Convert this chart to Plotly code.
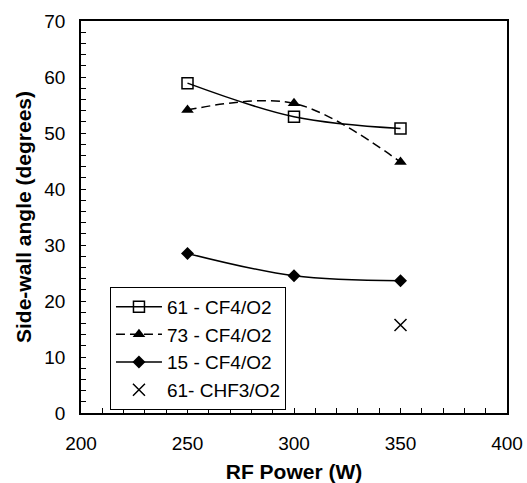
import plotly.graph_objects as go

power = [250, 300, 350]
s61_cf4 = [58.9, 52.9, 50.8]
s73_cf4 = [54.1, 55.3, 44.8]
s15_cf4 = [28.5, 24.5, 23.6]
power_chf3 = [350]
s61_chf3 = [15.7]

names = ["61 - CF4/O2", "73 - CF4/O2", "15 - CF4/O2", "61- CHF3/O2"]

FONT = "Liberation Sans, Arial, sans-serif"

fig = go.Figure()
fig.add_trace(go.Scatter(x=power, y=s61_cf4, name=names[0], mode="lines+markers",
                         line=dict(color="black", width=1.5, shape="spline"),
                         marker=dict(symbol="square-open", size=11, color="black", line=dict(width=1.5))))
fig.add_trace(go.Scatter(x=power, y=s73_cf4, name=names[1], mode="lines+markers",
                         line=dict(color="black", width=1.5, shape="spline", dash="9px,5px"),
                         marker=dict(symbol="triangle-up", size=11, color="black")))
fig.add_trace(go.Scatter(x=power, y=s15_cf4, name=names[2], mode="lines+markers",
                         line=dict(color="black", width=1.5, shape="spline"),
                         marker=dict(symbol="diamond", size=10, color="black")))
fig.add_trace(go.Scatter(x=power_chf3, y=s61_chf3, name=names[3], mode="markers",
                         marker=dict(symbol="x-thin", size=12, color="black", line=dict(width=1.5, color="black"))))

fig.update_layout(
    width=527, height=483,
    margin=dict(l=81, r=20, t=21, b=70),
    paper_bgcolor="white", plot_bgcolor="white",
    font=dict(family=FONT, size=19, color="black"),
    showlegend=True,
    legend=dict(x=0.068, y=0.322, xanchor="left", yanchor="top",
                bordercolor="black", borderwidth=1, bgcolor="white",
                font=dict(size=19, family=FONT), tracegroupgap=0,
                itemwidth=46),
    xaxis=dict(range=[200, 400], dtick=50, tick0=200, showgrid=False, zeroline=False,
               showline=True, linecolor="black", linewidth=1.5, mirror=True,
               ticks="inside", ticklen=5, tickcolor="black", automargin=False,
               ticklabelstandoff=12,
               minor=dict(dtick=10, ticks="inside", ticklen=5, tickcolor="black"),
               title=dict(text="<b>RF Power (W)</b>", font=dict(size=21, family=FONT), standoff=16),
               tickfont=dict(size=19, family=FONT)),
    yaxis=dict(range=[0, 70], dtick=10, tick0=0, showgrid=False, zeroline=False,
               showline=True, linecolor="black", linewidth=1.5, mirror=True,
               ticks="inside", ticklen=5, tickcolor="black", automargin=False,
               ticklabelstandoff=10,
               minor=dict(dtick=2, ticks="inside", ticklen=5, tickcolor="black"),
               title=dict(text="<b>Side-wall angle (degrees)</b>", font=dict(size=21, family=FONT), standoff=7),
               tickfont=dict(size=19, family=FONT)),
)

fig.write_html("out.html", config={"displayModeBar": False},
               post_script="document.body.style.margin='0';")
